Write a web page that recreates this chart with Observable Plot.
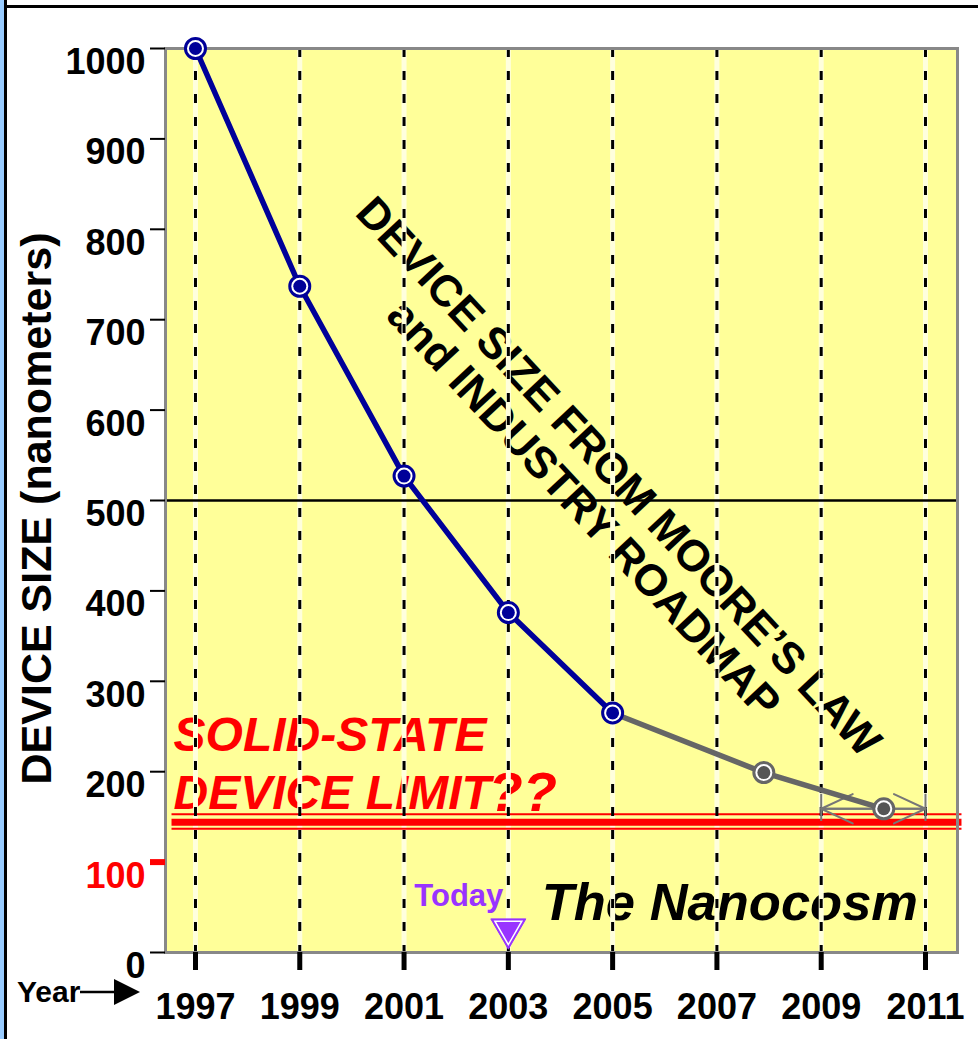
<!DOCTYPE html>
<html><head><meta charset="utf-8">
<script src="https://cdn.jsdelivr.net/npm/d3@7"></script>
<script src="https://cdn.jsdelivr.net/npm/@observablehq/plot@0.6"></script>
<style>
body{margin:0;background:#fff;}
#wrap{position:relative;width:978px;height:1039px;overflow:hidden;font-family:"Liberation Sans",Arial,sans-serif;}
#wrap svg.chart{position:absolute;left:0;top:0;}
.bl{position:absolute;left:0;top:0;width:4px;height:1039px;background:#99ccff;}
.bl2{position:absolute;left:4px;top:0;width:3px;height:1039px;background:#000;}
.bt{position:absolute;left:4px;top:5px;width:974px;height:3px;background:#000;}
#year{position:absolute;left:17px;top:974px;font-weight:bold;font-size:30px;line-height:36px;color:#000;display:flex;align-items:center;}
</style></head>
<body>
<div id="wrap">
<div class="bl"></div><div class="bl2"></div><div class="bt"></div>
<div id="year"><span>Year</span><svg width="62" height="30" viewBox="0 0 62 30"><line x1="0" y1="15" x2="36" y2="15" stroke="#000" stroke-width="2.5"/><polygon points="34,2 60,15 34,28" fill="#000"/></svg></div>
</div>
<script>
// ---- data ----
const years = [1997, 1999, 2001, 2003, 2005, 2007, 2009, 2011];
const yTicks = [0, 200, 300, 400, 500, 600, 700, 800, 900, 1000];
const redTicks = [100];
const roadmapYears = [1997, 1999, 2001, 2003, 2005];
const roadmapSizes = [1000, 737, 527, 376, 265];
const projYears = [2005, 2007.9, 2010.2];
const projSizes = [265, 199, 159];
const projPointYears = [2007.9, 2010.2];
const projPointSizes = [199, 159];
const limitThin = [153, 137];
const limitThick = [144];
const referenceLine = [500];
const rangeYears = [2009, 2011];
const rangeSize = 159;
const todayYear = 2003;
const titleLines = ["DEVICE SIZE FROM MOORE\u2019S LAW", "and INDUSTRY ROADMAP"];

const roadmap = roadmapYears.map((x, i) => ({x, y: roadmapSizes[i]}));
const proj = projYears.map((x, i) => ({x, y: projSizes[i]}));
const projPts = projPointYears.map((x, i) => ({x, y: projPointSizes[i]}));

const FF = '"Liberation Sans", Arial, sans-serif';
const BLUE = "#000099", GRAY = "#666666", RED = "#ff0000", PURPLE = "#9933ff";

const chart = Plot.plot({
  width: 978,
  height: 1039,
  marginLeft: 165,
  marginRight: 21,
  marginTop: 48,
  marginBottom: 87,
  style: {fontFamily: FF, background: "transparent", overflow: "visible"},
  x: {domain: [1996.425, 2011.614], axis: null},
  y: {domain: [0, 1000], axis: null},
  marks: [
    Plot.frame({fill: "#ffff99"}),
    // texts under dashed lines
    Plot.text(["SOLID-STATE"], {x: 1996.58, y: 240, text: d => d, textAnchor: "start", fill: RED, fontSize: 48, fontWeight: "bold", fontStyle: "italic", fontFamily: FF}),
    Plot.text(["DEVICE LIMIT"], {x: 1996.58, y: 176, text: d => d, textAnchor: "start", fill: RED, fontSize: 48, fontWeight: "bold", fontStyle: "italic", fontFamily: FF}),
    Plot.text(["??"], {x: 2002.62, y: 176, text: d => d, textAnchor: "start", fill: RED, fontSize: 56, fontWeight: "bold", fontStyle: "italic", fontFamily: FF}),
    Plot.text([titleLines.join("\n")], {x: 2004.79, y: 509, text: d => d, rotate: 47, textAnchor: "middle", lineHeight: 1.08, fill: "black", fontSize: 44, fontWeight: "bold", fontFamily: FF}),
    Plot.text(["The Nanocosm"], {x: 2003.64, y: 55, text: d => d, textAnchor: "start", fill: "black", fontSize: 52.5, fontWeight: "bold", fontStyle: "italic", fontFamily: FF}),
    Plot.text(["Today"], {x: todayYear, y: 62, text: d => d, textAnchor: "end", dx: -5, fill: PURPLE, fontSize: 31, fontWeight: "bold", fontFamily: FF}),
    // dashed year lines (light underlay)
    Plot.ruleX(years, {stroke: "#ffffdd", strokeWidth: 5}),
    // red limit lines
    Plot.ruleY(limitThin, {x1: 1996.55, x2: 2011.7, stroke: RED, strokeWidth: 2}),
    Plot.ruleY(limitThick, {x1: 1996.55, x2: 2011.7, stroke: RED, strokeWidth: 7}),
    Plot.ruleX(years, {stroke: "black", strokeWidth: 3, strokeDasharray: "9,14"}),
    // 500 reference line
    Plot.ruleY(referenceLine, {stroke: "black", strokeWidth: 2.5}),
    // frame border
    Plot.frame({stroke: "#888", strokeWidth: 3}),
    // axes
    Plot.axisX(years, {anchor: "bottom", tickSize: 18, strokeWidth: 5, tickPadding: 23, tickFormat: d => String(d), fontSize: 36, fontWeight: "bold", fontFamily: FF, fill: "black", label: null}),
    Plot.axisY(yTicks, {anchor: "left", tickSize: 15, strokeWidth: 2, tickPadding: 5, tickFormat: d => String(d), lineAnchor: "top", fontSize: 36, fontWeight: "bold", fontFamily: FF, fill: "black", label: null}),
    Plot.axisY(redTicks, {anchor: "left", tickSize: 15, strokeWidth: 6, stroke: RED, tickPadding: 5, tickFormat: d => String(d), lineAnchor: "top", fontSize: 36, fontWeight: "bold", fontFamily: FF, fill: RED, label: null}),
    Plot.text(["DEVICE SIZE (nanometers)"], {frameAnchor: "left", dx: -128, dy: 8, rotate: -90, text: d => d, textAnchor: "middle", fill: "black", fontSize: 43, fontWeight: "bold", fontFamily: FF}),
    // range arrow
    Plot.ruleX(rangeYears, {y1: 145, y2: 175, stroke: "#777", strokeWidth: 2}),
    Plot.arrow([0], {x1: rangeYears[1], x2: rangeYears[0], y1: rangeSize, y2: rangeSize, stroke: "#777", strokeWidth: 2, headLength: 30, headAngle: 50}),
    Plot.arrow([0], {x1: rangeYears[0], x2: rangeYears[1], y1: rangeSize, y2: rangeSize, stroke: "#777", strokeWidth: 2, headLength: 30, headAngle: 50}),
    // data lines
    Plot.line(proj, {x: "x", y: "y", stroke: GRAY, strokeWidth: 5.5}),
    Plot.line(roadmap, {x: "x", y: "y", stroke: BLUE, strokeWidth: 5.5}),
    Plot.dot(projPts, {x: "x", y: "y", r: 10, fill: "white", stroke: GRAY, strokeWidth: 3}),
    Plot.dot(projPts, {x: "x", y: "y", r: 6.5, fill: "#555"}),
    Plot.dot(roadmap, {x: "x", y: "y", r: 10, fill: "white", stroke: BLUE, strokeWidth: 3}),
    Plot.dot(roadmap, {x: "x", y: "y", r: 6.5, fill: BLUE}),
    // today marker
    Plot.dot([todayYear], {x: d => d, y: 26, symbol: "triangle", rotate: 180, r: 13, fill: PURPLE, stroke: PURPLE, strokeWidth: 1}),
    Plot.dot([todayYear], {x: d => d, y: 26, symbol: "triangle", rotate: 180, r: 10, fill: "none", stroke: "white", strokeWidth: 1.5})
  ]
});
chart.classList.add("chart");
document.getElementById("wrap").insertBefore(chart, document.getElementById("year"));
</script>
</body></html>
